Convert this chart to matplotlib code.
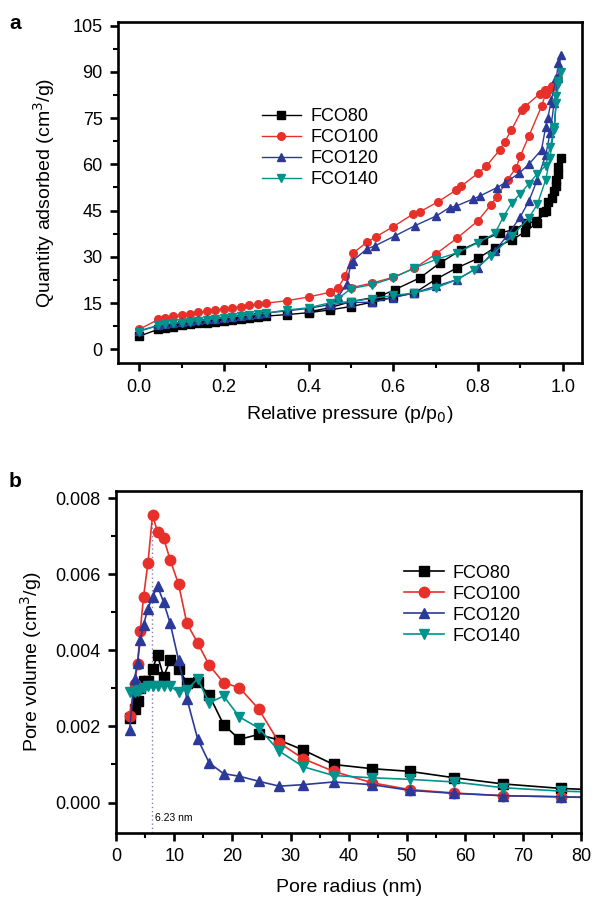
# -*- coding: utf-8 -*-
# N2 sorption isotherms (a) and pore size distribution (b)
import numpy as np
import matplotlib.pyplot as plt
from matplotlib.ticker import MultipleLocator

plt.rcParams['font.family'] = ['Liberation Sans', 'DejaVu Sans']

# ---- panel a data (adsorption branch then desorption branch) ----
low_p = [0.0, 0.045, 0.06, 0.08, 0.10, 0.12, 0.14, 0.16, 0.18, 0.20, 0.22, 0.24, 0.26, 0.28, 0.30]

p80 = low_p + [0.35, 0.40, 0.45, 0.50, 0.55, 0.60, 0.65, 0.70, 0.75, 0.80, 0.84, 0.88, 0.91, 0.94, 0.96,
               0.975, 0.985, 0.99, 0.995,
               0.99, 0.985, 0.98, 0.965, 0.953, 0.938, 0.914, 0.883, 0.851, 0.812, 0.761, 0.71, 0.663,
               0.604, 0.568, 0.50, 0.45, 0.40]
q80 = [4.3, 6.5, 7.0, 7.4, 7.8, 8.1, 8.4, 8.7, 9.0, 9.3, 9.6, 9.9, 10.2, 10.5, 10.8,
       11.3, 11.9, 12.8, 13.9, 15.3, 17.0, 18.3, 22.7, 26.4, 29.5, 33.0, 35.5, 38.0, 41.0, 45.0,
       49.0, 53.0, 57.0, 61.9,
       59.2, 55.0, 51.5, 47.9, 44.7, 41.5, 40.9, 38.8, 37.7, 35.5, 32.3, 28.0, 23.2,
       19.4, 17.2, 15.5, 13.5, 12.2]

p100 = low_p + [0.35, 0.40, 0.45, 0.50, 0.55, 0.60, 0.65, 0.70, 0.75, 0.80, 0.83, 0.845, 0.87, 0.89,
                0.90, 0.92, 0.95, 0.96, 0.975, 0.99,
                0.985, 0.977, 0.969, 0.958, 0.946, 0.91, 0.903, 0.879, 0.863, 0.851, 0.82, 0.80,
                0.761, 0.749, 0.706, 0.663, 0.647, 0.60, 0.56, 0.537, 0.505, 0.486, 0.47, 0.45]
q100 = [6.5, 9.7, 10.3, 10.8, 11.2, 11.6, 12.0, 12.3, 12.7, 13.1, 13.5, 13.9, 14.3, 14.7, 15.0,
        15.8, 17.0, 18.5, 20.0, 21.5, 23.4, 26.3, 30.9, 36.0, 41.7, 46.8, 49.5, 55.0, 58.9,
        62.7, 69.1, 78.8, 82.9, 85.5, 88.0,
        86.5, 85.5, 84.5, 84.0, 82.9, 78.6, 77.5, 71.1, 67.3, 64.6, 59.5, 57.1,
        53.0, 51.7, 47.9, 44.6, 43.9, 39.8, 36.6, 34.7, 31.2, 23.7, 20.0, 18.5]

p120 = low_p + [0.35, 0.40, 0.45, 0.50, 0.55, 0.60, 0.65, 0.70, 0.75, 0.80, 0.84, 0.87, 0.90, 0.92,
                0.94, 0.96, 0.97, 0.98, 0.99, 0.995,
                0.99, 0.985, 0.973, 0.965, 0.96, 0.95, 0.92, 0.897, 0.864, 0.844, 0.804, 0.789,
                0.749, 0.733, 0.702, 0.651, 0.604, 0.557, 0.537, 0.505, 0.50, 0.49, 0.47, 0.45]
q120 = [6.0, 7.8, 8.2, 8.5, 8.8, 9.1, 9.4, 9.7, 10.0, 10.3, 10.6, 10.9, 11.2, 11.5, 11.8,
        12.5, 13.3, 14.5, 15.2, 15.3, 16.8, 18.3, 20.5, 22.6, 26.5, 32.0, 37.0, 43.0, 48.0,
        55.0, 63.0, 70.0, 80.0, 88.0, 95.4,
        93.0, 88.0, 80.8, 75.0, 72.2, 64.7, 60.0, 57.1, 54.0, 52.4, 49.7, 48.8,
        46.5, 46.0, 43.3, 40.1, 36.8, 33.6, 32.5, 28.8, 27.7, 21.3, 17.0, 15.2]

p140 = low_p + [0.35, 0.40, 0.45, 0.50, 0.55, 0.60, 0.65, 0.70, 0.75, 0.79, 0.83, 0.88, 0.92, 0.94,
                0.96, 0.97, 0.98, 0.985, 0.99, 0.995,
                0.99, 0.985, 0.98, 0.97, 0.96, 0.94, 0.92, 0.90, 0.88, 0.86, 0.84, 0.80, 0.75,
                0.70, 0.65, 0.60, 0.55, 0.50, 0.47]
q140 = [5.8, 7.8, 8.2, 8.4, 8.7, 9.0, 9.3, 9.6, 9.9, 10.2, 10.5, 10.8, 11.1, 11.4, 11.8,
        12.8, 13.5, 15.1, 15.5, 16.5, 17.5, 18.3, 19.9, 22.6, 25.8, 30.2, 36.7, 42.6, 47.0,
        55.0, 62.0, 72.0, 80.0, 86.0, 90.0,
        87.0, 82.0, 71.0, 65.5, 59.6, 56.9, 53.7, 50.5, 47.5, 43.0, 37.6, 34.6, 31.3,
        29.1, 26.4, 23.2, 21.0, 19.7, 16.5]

# ---- panel b data ----
r = [2.3, 3.15, 3.67, 4.13, 4.7, 5.45, 6.25, 7.11, 8.15, 9.29, 10.72, 12.16, 14.0, 16.0,
     18.47, 21.2, 24.5, 28.05, 32.2, 37.4, 44.0, 50.5, 58.2, 66.5, 76.6, 88.0]
v80 = [0.00222, 0.00245, 0.00268, 0.00300, 0.00319, 0.00320, 0.00352, 0.00387, 0.00331, 0.00374,
       0.00352, 0.00315, 0.00318, 0.00282, 0.00205, 0.00166, 0.00179, 0.00164, 0.00138, 0.00100,
       0.00089, 0.00082, 0.00065, 0.00049, 0.00037, 0.00030]
v100 = [0.00227, 0.00311, 0.00365, 0.00451, 0.00541, 0.00629, 0.00756, 0.00711, 0.00695, 0.00638,
        0.00574, 0.00471, 0.00420, 0.00361, 0.00315, 0.00302, 0.00246, 0.00157, 0.00115, 0.00082,
        0.00052, 0.00034, 0.00025, 0.00018, 0.00015, 0.00010]
v120 = [0.00192, 0.00325, 0.00368, 0.00427, 0.00467, 0.00510, 0.00541, 0.00569, 0.00527, 0.00471,
        0.00375, 0.00273, 0.00168, 0.00104, 0.00076, 0.00069, 0.00056, 0.00043, 0.00047, 0.00054,
        0.00047, 0.00032, 0.00024, 0.00018, 0.00015, 0.00012]
v140 = [0.00290, 0.00290, 0.00293, 0.00297, 0.00302, 0.00306, 0.00306, 0.00306, 0.00306, 0.00306,
        0.00290, 0.00297, 0.00325, 0.00262, 0.00280, 0.00225, 0.00196, 0.00135, 0.00094, 0.00071,
        0.00065, 0.00061, 0.00054, 0.00039, 0.00030, 0.00025]
peak_r = 6.23

names = ['FCO80', 'FCO100', 'FCO120', 'FCO140']
colors = ['black', '#e8302a', '#2b3a98', '#00928c']
markers = ['s', 'o', '^', 'v']

fig = plt.figure(figsize=(5.93, 8.97), dpi=100)
ax1 = fig.add_axes([0.199, 0.595, 0.782, 0.380])
ax2 = fig.add_axes([0.196, 0.0714, 0.784, 0.3816])

for p, q, nm, c, m in zip([p80, p100, p120, p140], [q80, q100, q120, q140], names, colors, markers):
    ax1.plot(p, q, color=c, marker=m, ms=5.5, lw=1.0, label=nm)

for v, nm, c, m in zip([v80, v100, v120, v140], names, colors, markers):
    ax2.plot(r, v, color=c, marker=m, ms=7.5, lw=1.2, label=nm)

ax2.plot([peak_r, peak_r], [-0.001, 0.0076], color='#8a7fa8', ls=(0, (1, 2)), lw=1.0, zorder=0)
ax2.text(peak_r + 0.4, -0.0004, '6.23 nm', fontsize=7.5, va='center', ha='left')

ax1.set_xlim(-0.05, 1.045)
ax1.set_ylim(-4.5, 106)
ax1.xaxis.set_major_locator(MultipleLocator(0.2))
ax1.xaxis.set_minor_locator(MultipleLocator(0.1))
ax1.yaxis.set_major_locator(MultipleLocator(15))
ax1.yaxis.set_minor_locator(MultipleLocator(7.5))
ax1.xaxis.set_major_formatter(plt.FuncFormatter(lambda x, pos: '%.1f' % x))
ax1.set_xlabel('Relative pressure (p/p$_0$)', fontsize=14, labelpad=6)
ax1.set_ylabel('Quantity adsorbed (cm$^3$/g)', fontsize=14, labelpad=11)

ax2.set_xlim(0, 80)
ax2.set_ylim(-0.0008, 0.0082)
ax2.xaxis.set_major_locator(MultipleLocator(10))
ax2.xaxis.set_minor_locator(MultipleLocator(5))
ax2.yaxis.set_major_locator(MultipleLocator(0.002))
ax2.yaxis.set_minor_locator(MultipleLocator(0.001))
ax2.yaxis.set_major_formatter(plt.FuncFormatter(lambda y, pos: '%.3f' % y))
ax2.set_xlabel('Pore radius (nm)', fontsize=14, labelpad=10)
ax2.set_ylabel('Pore volume (cm$^3$/g)', fontsize=14, labelpad=8)

for ax in [ax1, ax2]:
    for s in ax.spines.values():
        s.set_linewidth(1.9)
    ax.tick_params(which='major', direction='out', length=6, width=1.9, labelsize=13, pad=5)
    ax.tick_params(which='minor', direction='out', length=3.5, width=1.5)

ax1.legend(loc='upper left', bbox_to_anchor=(0.29, 0.775), frameon=False, fontsize=13,
           handlelength=2.2, handletextpad=0.5, labelspacing=0.22, borderpad=0)
ax2.legend(loc='upper left', bbox_to_anchor=(0.6, 0.81), frameon=False, fontsize=13,
           handlelength=2.2, handletextpad=0.5, labelspacing=0.22, borderpad=0)

fig.text(0.015, 0.968, 'a', fontsize=15, fontweight='bold')
fig.text(0.015, 0.457, 'b', fontsize=15, fontweight='bold')

fig.savefig('out.png', dpi=100)
